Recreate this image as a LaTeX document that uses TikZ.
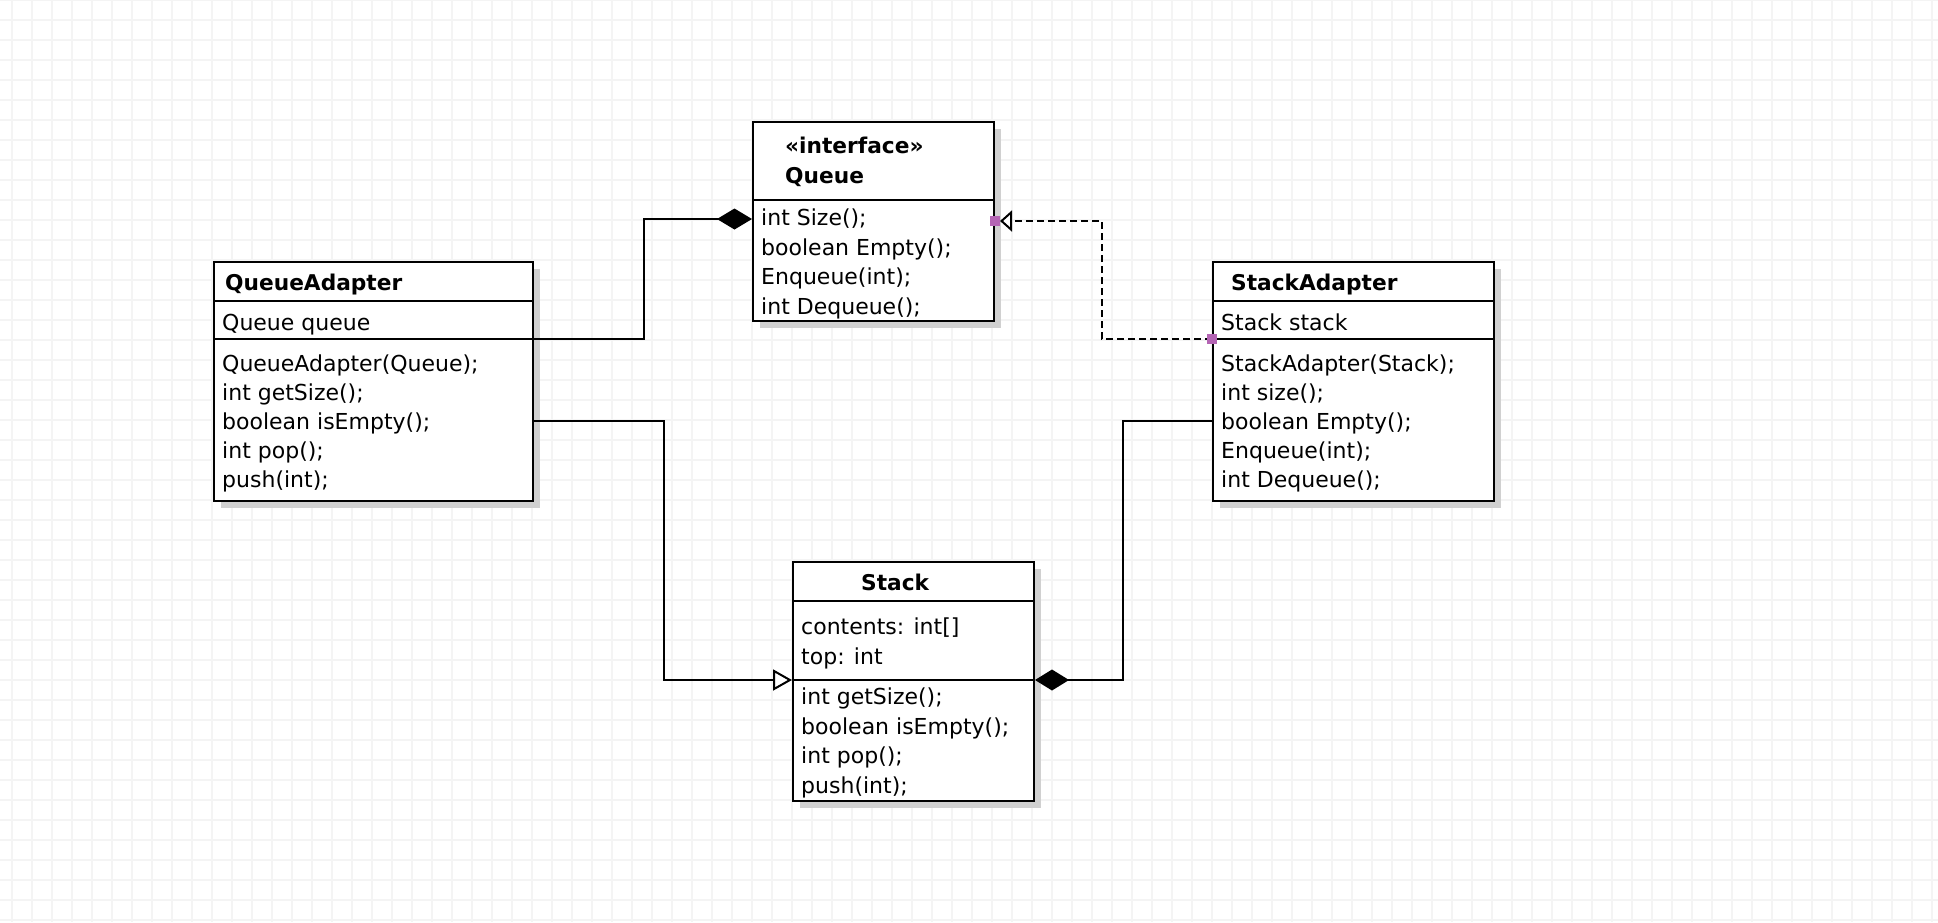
\documentclass[tikz,border=0pt]{standalone}
\usepackage{fontspec}
\setmainfont{DejaVu Sans}
\usetikzlibrary{arrows.meta,shadows,calc}
\definecolor{gridc}{RGB}{244,244,244}
\definecolor{shadowc}{RGB}{208,208,208}
\definecolor{portc}{RGB}{180,100,180}
\begin{document}
\begin{tikzpicture}[x=1pt,y=-1pt,
  classbox/.style={draw=black, line width=2pt, fill=white, inner sep=0pt, anchor=north west,
    general shadow={fill=shadowc, shadow xshift=7pt, shadow yshift=-7pt}},
  txt/.style={anchor=base west, inner sep=0pt, font=\fontsize{22}{26}\selectfont},
  ttl/.style={anchor=base west, inner sep=0pt, font=\fontsize{21.7}{26}\selectfont\bfseries},
  sepline/.style={line width=2pt},
  conn/.style={line width=2pt, line join=miter},
  port/.style={fill=portc, minimum size=10pt, inner sep=0pt, draw=none},
  gridline/.style={draw=gridc, line width=2pt},
]
\fill[white] (0,0) rectangle (1938,922);
\useasboundingbox (0,0) rectangle (1938,922);
\foreach \i in {0,...,96} \draw[gridline] (12+20*\i,0) -- (12+20*\i,922);
\foreach \j in {0,...,46} \draw[gridline] (0,20*\j) -- (1938,20*\j);

% class boxes
\node[classbox, minimum width=241pt, minimum height=199pt] (queue) at (752,121) {};
\node[classbox, minimum width=319pt, minimum height=239pt] (qa) at (213,261) {};
\node[classbox, minimum width=281pt, minimum height=239pt] (sa) at (1212,261) {};
\node[classbox, minimum width=241pt, minimum height=239pt] (st) at (792,561) {};

% separators
\draw[sepline] ($(queue.north west)+(0,79)$) -- ($(queue.north east)+(0,79)$);
\draw[sepline] ($(qa.north west)+(0,40)$) -- ($(qa.north east)+(0,40)$);
\draw[sepline] ($(qa.north west)+(0,78)$) -- ($(qa.north east)+(0,78)$);
\draw[sepline] ($(sa.north west)+(0,40)$) -- ($(sa.north east)+(0,40)$);
\draw[sepline] ($(sa.north west)+(0,78)$) -- ($(sa.north east)+(0,78)$);
\draw[sepline] ($(st.north west)+(0,40)$) -- ($(st.north east)+(0,40)$);
\draw[sepline] ($(st.north west)+(0,119)$) -- ($(st.north east)+(0,119)$);

% Queue texts
\node[ttl] (qst) at (785,153) {«interface»};
\node[ttl] (qtitle) at (785,183) {Queue};
\node[txt] (q1) at (761,225) {int Size();};
\node[txt] (q2) at (761,255) {boolean Empty();};
\node[txt] (q3) at (761,284) {Enqueue(int);};
\node[txt] (q4) at (761,314) {int Dequeue();};

% QueueAdapter texts
\node[ttl] (qatitle) at (225,290) {QueueAdapter};
\node[txt] (qa0) at (222,330) {Queue queue};
\node[txt] (qa1) at (222,371) {QueueAdapter(Queue);};
\node[txt] (qa2) at (222,400) {int getSize();};
\node[txt] (qa3) at (222,429) {boolean isEmpty();};
\node[txt] (qa4) at (222,458) {int pop();};
\node[txt] (qa5) at (222,487) {push(int);};

% StackAdapter texts
\node[ttl] (satitle) at (1231,290) {StackAdapter};
\node[txt] (sa0) at (1221,330) {Stack stack};
\node[txt] (sa1) at (1221,371) {StackAdapter(Stack);};
\node[txt] (sa2) at (1221,400) {int size();};
\node[txt] (sa3) at (1221,429) {boolean Empty();};
\node[txt] (sa4) at (1221,458) {Enqueue(int);};
\node[txt] (sa5) at (1221,487) {int Dequeue();};

% Stack texts
\node[ttl] (sttitle) at (861,590) {Stack};
\node[txt] (st0) at (801,634) {contents: int[]};
\node[txt] (st1) at (801,664) {top: int};
\node[txt] (st2) at (801,704) {int getSize();};
\node[txt] (st3) at (801,734) {boolean isEmpty();};
\node[txt] (st4) at (801,763) {int pop();};
\node[txt] (st5) at (801,793) {push(int);};

% connectors
\coordinate (qaA) at ($(qa.north east)+(0,78)$);
\coordinate (qaB) at ($(qa.north east)+(0,160)$);
\coordinate (saA) at ($(sa.north west)+(0,78)$);
\coordinate (saB) at ($(sa.north west)+(0,160)$);
\coordinate (queueL) at ($(queue.north west)+(0,98)$);
\coordinate (queueR) at ($(queue.north east)+(5,100)$);
\coordinate (stL) at ($(st.north west)+(0,119)$);
\coordinate (stR) at ($(st.north east)+(0,119)$);

\draw[conn, -{Diamond[length=35pt,width=21pt]}] (qaA) -- ++(110,0) |- (queueL);
\draw[conn, dash pattern=on 7pt off 4pt, -{Triangle[open,length=12pt,width=21pt,fill=white]}] (saA) -- ++(-110,0) |- (queueR);
\draw[conn, -{Triangle[open,length=19pt,width=21pt,fill=white]}] (qaB) -- ++(130,0) |- (stL);
\draw[conn, -{Diamond[length=34pt,width=21pt]}] (saB) -- ++(-89,0) |- (stR);

% ports
\node[port] (p1) at ($(queue.north east)+(0,100)$) {};
\node[port] (p2) at (saA) {};
\end{tikzpicture}
\end{document}
